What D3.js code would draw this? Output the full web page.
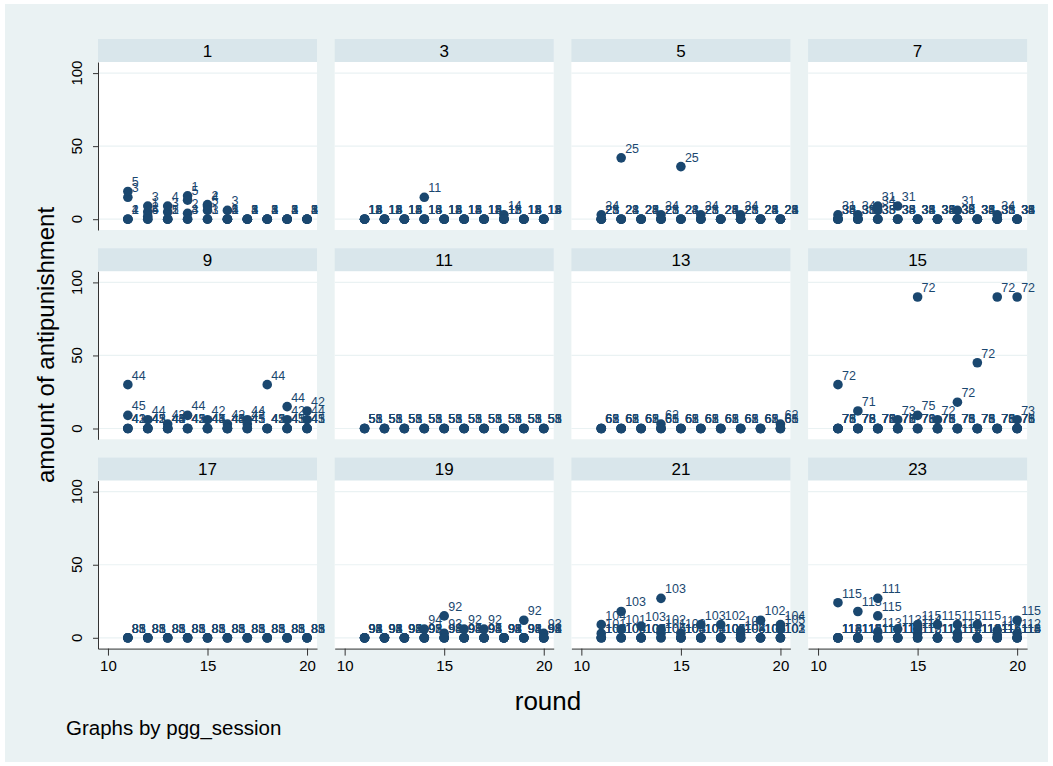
<!DOCTYPE html>
<html><head><meta charset="utf-8">
<script src="https://cdn.jsdelivr.net/npm/d3@7"></script>
<style>
html,body{margin:0;padding:0;background:#fff;}
svg{display:block;font-family:"Liberation Sans",Arial,sans-serif;}
</style></head><body>
<svg id="chart" width="1053" height="766"></svg>
<script>
// Panels: one per pgg_session
const sessions = [1, 3, 5, 7, 9, 11, 13, 15, 17, 19, 21, 23];
const rounds = [11, 12, 13, 14, 15, 16, 17, 18, 19, 20];
const xTicks = [10, 15, 20];
const yTicks = [0, 50, 100];

// Subject ids playing in each session (same order as sessions)
const sessionSubjects = [
  [1, 2, 3, 4, 5],
  [11, 13, 14, 15, 18],
  [21, 23, 24, 25, 28],
  [31, 33, 34, 35, 38],
  [41, 42, 43, 44, 45],
  [51, 53, 55, 58],
  [61, 62, 65, 68],
  [71, 72, 73, 75, 76, 78],
  [81, 83, 85, 88],
  [91, 92, 93, 94, 95, 98],
  [101, 102, 103, 104, 105],
  [111, 112, 113, 114, 115, 116]
];

// Non-zero antipunishment per session: [round, subject, amount]; everything else is 0
const session1 = [[11,5,19],[11,3,15],[12,3,9],[12,1,5],[12,2,2],[13,4,9],[13,3,5],
                  [14,1,16],[14,5,13],[14,2,4],[15,2,10],[15,4,9],[15,5,6],[16,3,6]];
const session3 = [[14,11,15],[18,14,3]];
const session5 = [[12,25,42],[15,25,36],[11,24,3],[14,24,3],[16,24,3],[18,24,3]];
const session7 = [[11,31,3],[12,34,3],[13,31,9],[13,34,6],[14,31,9],[17,31,6],[19,34,3]];
const session9 = [[11,44,30],[11,45,9],[12,44,6],[13,42,3],[14,44,9],[15,42,6],[16,42,3],
                  [17,44,6],[17,42,3],[18,44,30],[19,44,15],[19,42,6],[20,42,12],[20,44,6]];
const session11 = [];
const session13 = [[14,62,3],[20,62,3]];
const session15 = [[11,72,30],[12,71,12],[14,73,6],[15,72,90],[15,75,9],[16,72,6],[17,72,18],
                   [18,72,45],[19,72,90],[20,72,90],[20,73,6]];
const session17 = [];
const session19 = [[14,94,6],[15,92,15],[15,93,3],[16,92,6],[17,92,6],[19,92,12],[20,93,3]];
const session21 = [[11,104,9],[11,101,3],[12,103,18],[12,101,6],[13,103,8],
                   [14,103,27],[14,102,6],[14,101,3],[15,102,3],[16,103,9],[17,102,9],
                   [18,101,5],[18,102,2],[19,102,12],[20,104,9],[20,105,6]];
const session23 = [[11,115,24],[12,113,18],[13,111,27],[13,115,15],[13,113,4],
                   [14,113,6],[15,115,9],[15,114,6],[15,111,3],[16,115,9],[17,115,9],[17,113,3],
                   [18,115,9],[19,113,5],[19,112,2],[20,115,12],[20,112,3]];
const nonZero = [session1, session3, session5, session7, session9, session11,
                 session13, session15, session17, session19, session21, session23];

const W = 1053, H = 766;
const svg = d3.select('#chart');
const navy = '#1a476f';

svg.append('rect').attr('width', W).attr('height', H).attr('fill', '#fff');
svg.append('rect').attr('x', 5).attr('y', 4).attr('width', W - 10).attr('height', H - 8).attr('fill', '#eaf2f3');

const nCols = 4;
const colX = i => 98 + i * 236.7;
const rowY = j => 39 + j * 209.3;
const pw = 219, stripH = 23, ph = 168;

const x = d3.scaleLinear().domain([9.5, 20.5]).range([0, pw]);
const y = d3.scaleLinear().domain([-7.4, 107.6]).range([ph, 0]);

sessions.forEach((s, k) => {
  const col = k % nCols, row = Math.floor(k / nCols);
  const g = svg.append('g').attr('transform', `translate(${colX(col)},${rowY(row) + stripH})`);

  // strip with the session number
  g.append('rect').attr('x', 0).attr('y', -stripH).attr('width', pw).attr('height', stripH).attr('fill', '#d9e6eb');
  g.append('text').attr('x', pw / 2).attr('y', -stripH / 2).attr('dy', '0.36em')
    .attr('text-anchor', 'middle').attr('font-size', 17).attr('fill', '#000').text(s);

  // plot region
  g.append('rect').attr('width', pw).attr('height', ph).attr('fill', '#fff');
  g.selectAll('line.grid').data(yTicks).join('line').attr('class', 'grid')
    .attr('x1', 0).attr('x2', pw).attr('y1', d => y(d)).attr('y2', d => y(d))
    .attr('stroke', '#eaf2f3').attr('stroke-width', 1.2);

  // observations: every subject every round, 0 unless listed
  const lookup = new Map(nonZero[k].map(d => [d[0] + ':' + d[1], d[2]]));
  const pts = [];
  rounds.forEach(r => sessionSubjects[k].forEach(sub => {
    const v = lookup.has(r + ':' + sub) ? lookup.get(r + ':' + sub) : 0;
    pts.push({ r, sub, v });
  }));

  g.selectAll('circle').data(pts).join('circle')
    .attr('cx', d => x(d.r)).attr('cy', d => y(d.v)).attr('r', 4.8).attr('fill', navy);
  g.selectAll('text.lab').data(pts).join('text').attr('class', 'lab')
    .attr('x', d => x(d.r) + 4).attr('y', d => y(d.v) - 5)
    .attr('font-size', 12.5).attr('fill', navy).text(d => d.sub);

  // left axis on first column
  if (col === 0) {
    const ax = g.append('g').call(d3.axisLeft(y).tickValues(yTicks).tickSize(5).tickSizeOuter(0).tickFormat(''));
    ax.select('.domain').attr('stroke', '#333');
    ax.selectAll('.tick line').attr('stroke', '#333');
    g.selectAll('text.ytl').data(yTicks).join('text').attr('class', 'ytl')
      .attr('transform', d => `translate(-21,${y(d)}) rotate(-90)`)
      .attr('text-anchor', 'middle').attr('dy', '0.36em')
      .attr('font-size', 15).attr('fill', '#000').text(d => d);
  }
  // bottom axis on last row
  if (row === 2) {
    const ax = g.append('g').attr('transform', `translate(0,${ph})`)
      .call(d3.axisBottom(x).tickValues(xTicks).tickSize(7).tickSizeOuter(0).tickPadding(5));
    ax.select('.domain').attr('stroke', '#333');
    ax.selectAll('.tick line').attr('stroke', '#333');
    ax.selectAll('.tick text').attr('font-size', 15).attr('fill', '#000')
      .attr('font-family', '"Liberation Sans",Arial,sans-serif');
  }
});

svg.append('text').attr('transform', 'translate(45,345) rotate(-90)').attr('text-anchor', 'middle')
  .attr('dy', '0.36em').attr('font-size', 24).attr('fill', '#000').text('amount of antipunishment');
svg.append('text').attr('x', 548).attr('y', 710).attr('text-anchor', 'middle')
  .attr('font-size', 26).attr('fill', '#000').text('round');
svg.append('text').attr('x', 66).attr('y', 735)
  .attr('font-size', 20.5).attr('fill', '#000').text('Graphs by pgg_session');
</script>
</body></html>
